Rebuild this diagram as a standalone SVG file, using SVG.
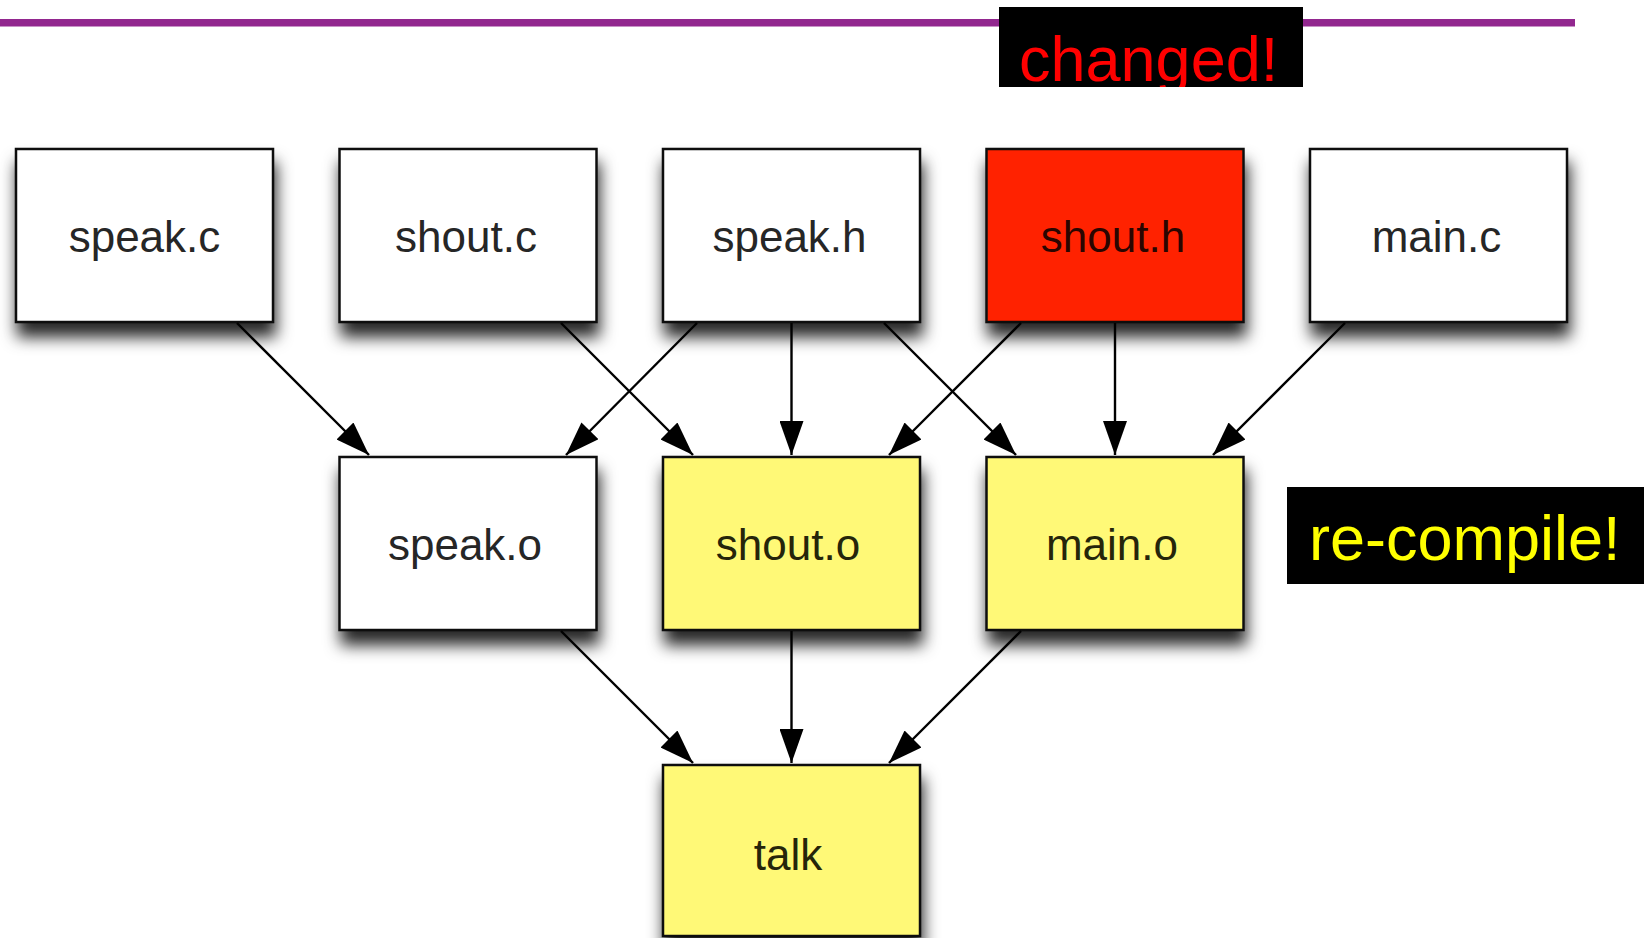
<svg xmlns="http://www.w3.org/2000/svg" width="1644" height="938" viewBox="0 0 1644 938">
  <style>
    .box { stroke: #111; stroke-width: 2.5; filter: url(#shadow); }
    .plain { fill: #ffffff; }
    .hot { fill: #ff2400; }
    .stale { fill: #fff977; }
    .lbl { font-family: "Liberation Sans", Arial, sans-serif; font-size: 44px; fill: #262626; text-anchor: middle; }
    .edge { stroke: #000; stroke-width: 2.4; fill: none; marker-end: url(#head); }
    .note { font-family: "Liberation Sans", Arial, sans-serif; font-size: 63px; }
  </style>
  <defs>
    <filter id="shadow" x="-20%" y="-20%" width="140%" height="170%">
      <feDropShadow dx="2" dy="14" stdDeviation="8" flood-color="#000" flood-opacity="0.85"/>
    </filter>
    <marker id="head" viewBox="0 0 34 24" refX="34" refY="12" markerUnits="userSpaceOnUse" markerWidth="34" markerHeight="24" orient="auto">
      <path d="M0,0 L34,12 L0,24 z" fill="#000"/>
    </marker>
    <clipPath id="tagclip">
      <rect x="999" y="7" width="304" height="80"/>
    </clipPath>
  </defs>

  <rect width="1644" height="938" fill="#ffffff"/>

  <!-- title rule -->
  <rect x="0" y="19" width="1575" height="7.5" fill="#92278f"/>

  <!-- "changed!" tag -->
  <g id="tag-changed">
    <rect x="999" y="7" width="304" height="80" fill="#000"/>
    <text class="note" x="1019" y="81" fill="#ff0000" clip-path="url(#tagclip)">changed!</text>
  </g>

  <!-- sources -->
  <g id="node-speak-c">
    <rect class="box plain" x="16" y="149" width="257" height="173"/>
    <text class="lbl" x="144.5" y="252">speak.c</text>
  </g>
  <g id="node-shout-c">
    <rect class="box plain" x="339.5" y="149" width="257" height="173"/>
    <text class="lbl" x="466" y="252">shout.c</text>
  </g>
  <g id="node-speak-h">
    <rect class="box plain" x="663" y="149" width="257" height="173"/>
    <text class="lbl" x="789.5" y="252">speak.h</text>
  </g>
  <g id="node-shout-h">
    <rect class="box hot" x="986.5" y="149" width="257" height="173"/>
    <text class="lbl" x="1113" y="252" style="fill:#2a0500">shout.h</text>
  </g>
  <g id="node-main-c">
    <rect class="box plain" x="1310" y="149" width="257" height="173"/>
    <text class="lbl" x="1436.5" y="252">main.c</text>
  </g>

  <!-- objects -->
  <g id="node-speak-o">
    <rect class="box plain" x="339.5" y="457" width="257" height="173"/>
    <text class="lbl" x="465" y="560">speak.o</text>
  </g>
  <g id="node-shout-o">
    <rect class="box stale" x="663" y="457" width="257" height="173"/>
    <text class="lbl" x="788" y="560" style="fill:#25250a">shout.o</text>
  </g>
  <g id="node-main-o">
    <rect class="box stale" x="986.5" y="457" width="257" height="173"/>
    <text class="lbl" x="1112" y="560" style="fill:#25250a">main.o</text>
  </g>

  <!-- executable -->
  <g id="node-talk">
    <rect class="box stale" x="663" y="765" width="257" height="171"/>
    <text class="lbl" x="788" y="870" style="fill:#25250a">talk</text>
  </g>

  <!-- dependencies -->
  <g id="connectors">
    <line class="edge" x1="237" y1="323" x2="369" y2="455"/>
    <line class="edge" x1="561" y1="323" x2="693" y2="455"/>
    <line class="edge" x1="697" y1="323" x2="566" y2="455"/>
    <line class="edge" x1="791.5" y1="323" x2="791.5" y2="455"/>
    <line class="edge" x1="884" y1="323" x2="1016" y2="455"/>
    <line class="edge" x1="1021" y1="323" x2="889" y2="455"/>
    <line class="edge" x1="1115" y1="323" x2="1115" y2="455"/>
    <line class="edge" x1="1345" y1="323" x2="1213" y2="455"/>
    <line class="edge" x1="561" y1="631" x2="693" y2="763"/>
    <line class="edge" x1="791.5" y1="631" x2="791.5" y2="763"/>
    <line class="edge" x1="1021" y1="631" x2="889" y2="763"/>
  </g>

  <!-- "re-compile!" tag -->
  <g id="tag-recompile">
    <rect x="1287" y="487" width="357" height="97" fill="#000"/>
    <text class="note" x="1309" y="560" fill="#ffff00">re-compile!</text>
  </g>
</svg>
